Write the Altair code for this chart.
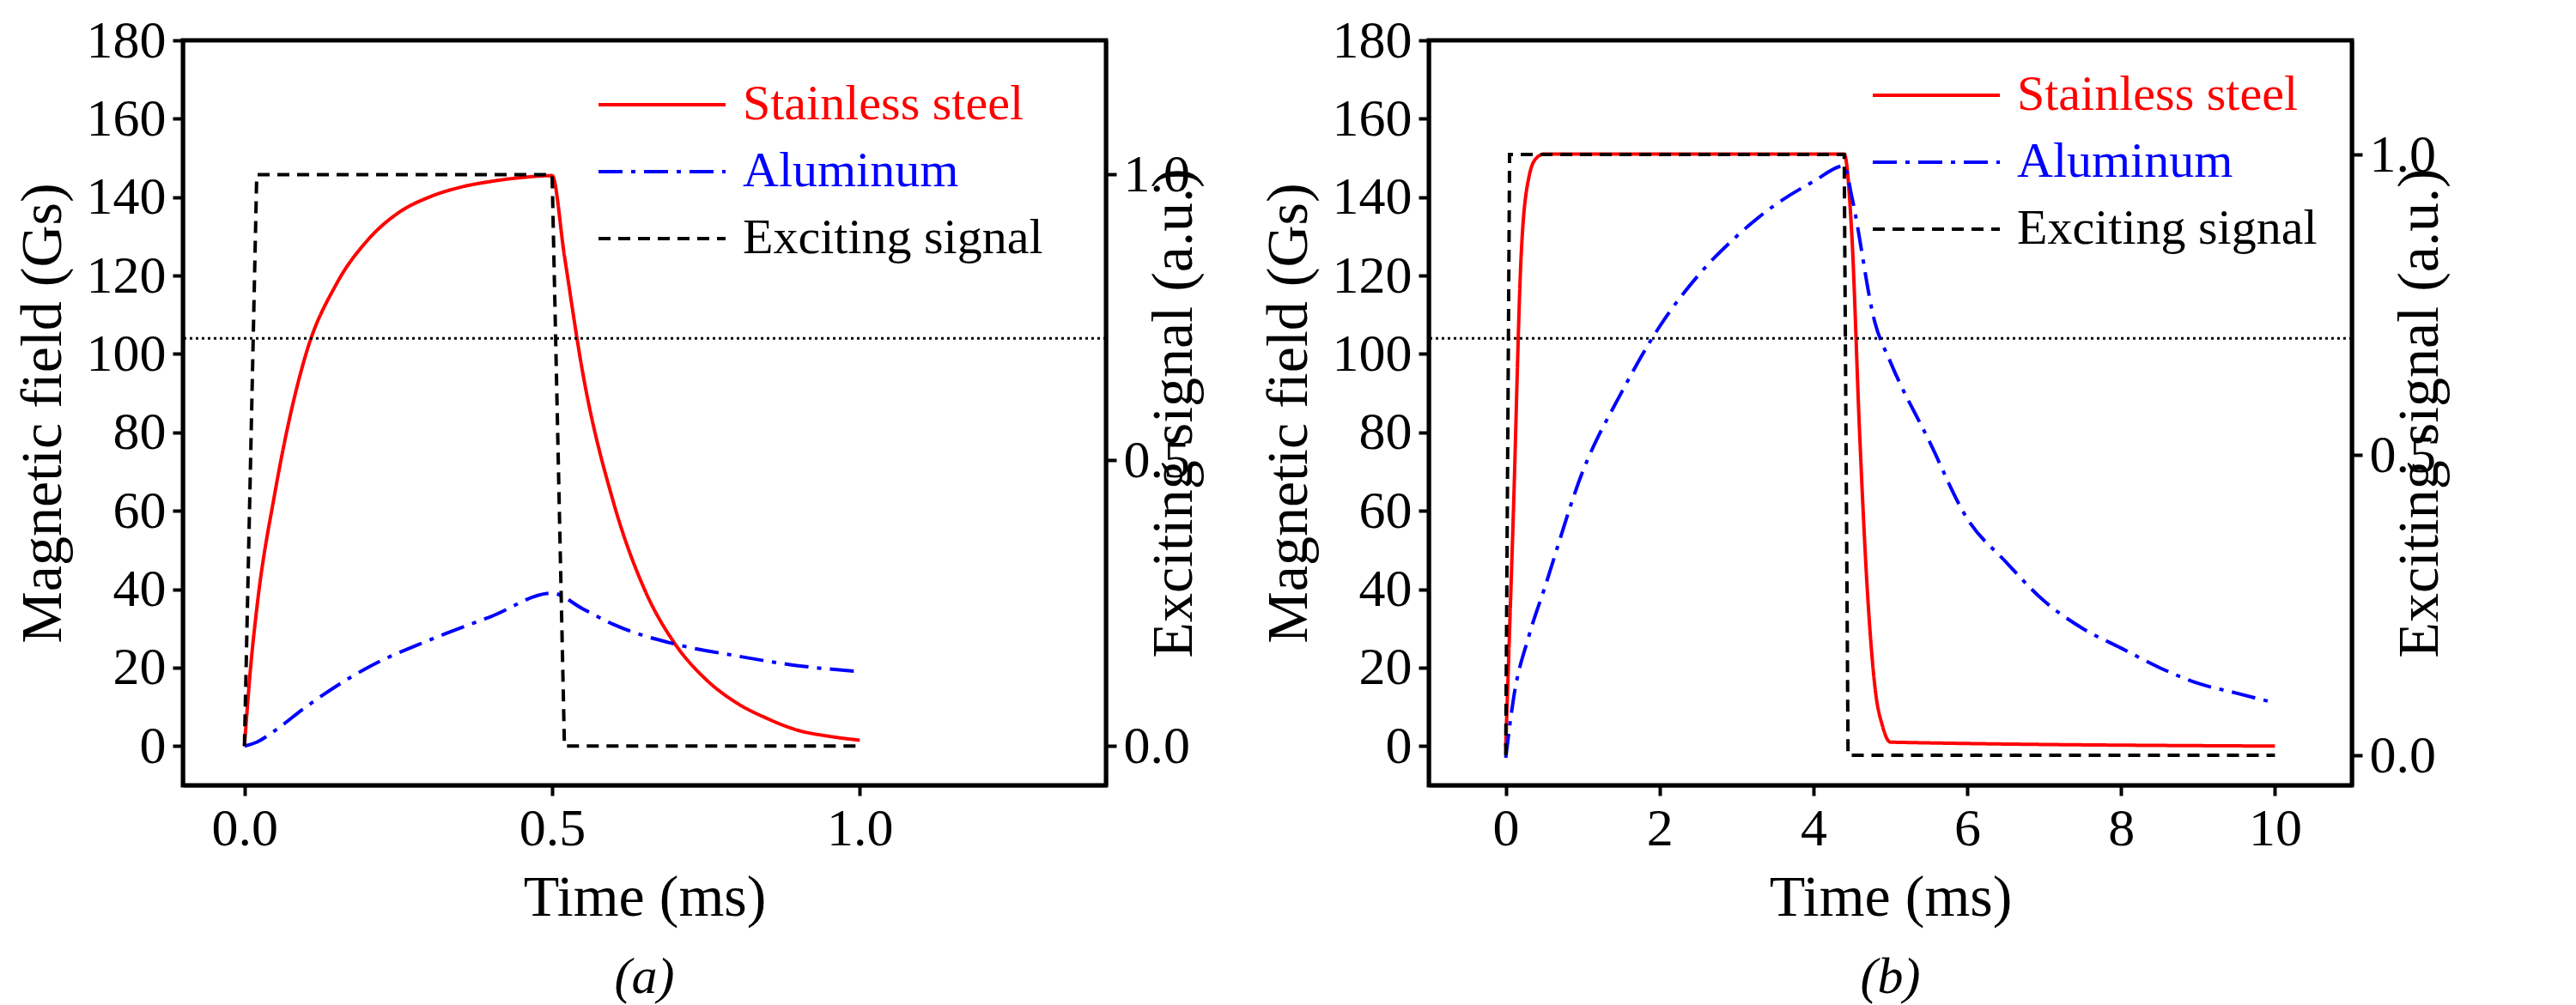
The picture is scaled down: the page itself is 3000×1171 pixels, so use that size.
import altair as alt
import pandas as pd

FONT = "Liberation Serif"

# panel (a)
a_ss_t = [0, 0.01, 0.02, 0.05, 0.1, 0.15, 0.2, 0.25, 0.3, 0.35, 0.4, 0.45, 0.5,
          0.52, 0.55, 0.6, 0.65, 0.7, 0.75, 0.8, 0.85, 0.9, 0.95, 1.0]
a_ss_v = [0, 20, 35, 65, 100, 118, 129, 136, 140, 142.5, 144, 145, 145.5,
          125, 95, 62, 40, 26, 17, 11, 7, 4, 2.5, 1.5]
a_al_t = [0, 0.02, 0.05, 0.1, 0.2, 0.3, 0.4, 0.5, 0.55, 0.6, 0.7, 0.8, 0.9, 1.0]
a_al_v = [0, 1, 4, 10, 20, 27, 33, 39, 35, 31, 26, 23, 20.5, 19]
a_ex_t = [0.0, 0.02, 0.5, 0.52, 1.0]
a_ex_v = [0, 1, 1, 0, 0]

# panel (b)
b_ss_t = [0, 0.1, 0.2, 0.3, 0.4, 0.5, 4.4, 4.5, 4.6, 4.7, 4.8, 4.9, 5.0, 10]
b_ss_v = [0, 60, 125, 145, 150, 151, 151, 130, 80, 40, 15, 5, 1, 0]
b_al_t = [0, 0.1, 0.3, 0.5, 1, 1.5, 2, 2.5, 3, 3.5, 4, 4.4, 4.5, 4.8, 5, 5.5, 6,
          6.5, 7, 7.5, 8, 8.5, 9, 9.5, 10]
b_al_v = [-3, 12, 28, 40, 70, 90, 107, 120, 130, 138, 144, 148, 140, 108, 98, 78,
          58, 47, 37, 30, 25, 20, 16, 13.5, 11]
b_ex_t = [0, 0.05, 4.4, 4.45, 10]
b_ex_v = [0, 1, 1, 0, 0]

series_names = ["Stainless steel", "Aluminum", "Exciting signal"]
threshold = 104


def panel(ss_t, ss_v, al_t, al_v, ex_t, ex_v, xdom, xticks, xfmt, ydom2,
          label, leg_x, leg_y):
    df = pd.DataFrame({
        "t": ss_t + al_t,
        "v": ss_v + al_v,
        "s": [series_names[0]] * len(ss_t) + [series_names[1]] * len(al_t),
    })
    ex = pd.DataFrame({"t": ex_t, "v": ex_v})
    x = alt.X("t:Q", title="Time (ms)", scale=alt.Scale(domain=xdom, nice=False),
              axis=alt.Axis(values=xticks, format=xfmt, grid=False))
    y = alt.Y("v:Q", title="Magnetic field (Gs)",
              scale=alt.Scale(domain=[-10, 180], nice=False),
              axis=alt.Axis(values=list(range(0, 181, 20)), grid=False, orient="left"))
    lines = alt.Chart(df).mark_line(strokeWidth=4, clip=True, interpolate="monotone").encode(
        x=x, y=y,
        color=alt.Color("s:N", scale=alt.Scale(domain=series_names[:2], range=["#ff0000", "#0000ff"]), legend=None),
        strokeDash=alt.StrokeDash("s:N", scale=alt.Scale(domain=series_names[:2], range=[[1, 0], [28, 10, 5, 10]]), legend=None),
    )
    hline = alt.Chart(pd.DataFrame({"v": [threshold]})).mark_rule(
        color="black", strokeDash=[3, 4], strokeWidth=3).encode(y="v:Q")
    left = alt.layer(lines, hline)
    excite = alt.Chart(ex).mark_line(color="black", strokeWidth=4, strokeDash=[14, 9]).encode(
        x=x,
        y=alt.Y("v:Q", title="Exciting signal (a.u.)",
                scale=alt.Scale(domain=ydom2, nice=False),
                axis=alt.Axis(values=[0, 0.5, 1.0], format=".1f", grid=False,
                              orient="right", titleAngle=270, titleBaseline="bottom")),
    )
    one = alt.Chart(pd.DataFrame({"a": [0]}))
    colors = ["#ff0000", "#0000ff", "black"]
    dashes = [[1, 0], [28, 10, 5, 10], [14, 9]]
    leg = []
    for i, name in enumerate(series_names):
        yy = leg_y + i * 78
        leg.append(one.mark_rule(color=colors[i], strokeWidth=4, strokeDash=dashes[i]).encode(
            x=alt.value(leg_x), x2=alt.value(leg_x + 148), y=alt.value(yy)))
        leg.append(one.mark_text(align="left", baseline="middle", font=FONT, fontSize=58,
                                 color=colors[i]).encode(
            x=alt.value(leg_x + 168), y=alt.value(yy), text=alt.value(name)))
    return alt.layer(left, excite, *leg).resolve_scale(y="independent").properties(
        width=1075, height=868,
        title=alt.TitleParams(label, orient="bottom", font=FONT, fontSize=60,
                              fontStyle="italic", fontWeight="normal", offset=30),
    )


pa = panel(a_ss_t, a_ss_v, a_al_t, a_al_v, a_ex_t, a_ex_v, [-0.1, 1.4],
           [0, 0.5, 1.0], ".1f", [-0.0686, 1.235], "(a)", 484, 75)
pb = panel(b_ss_t, b_ss_v, b_al_t, b_al_v, b_ex_t, b_ex_v, [-1, 11],
           [0, 2, 4, 6, 8, 10], "d", [-0.05, 1.19], "(b)", 517, 64)

chart = alt.hconcat(pa, pb, spacing=60).configure_view(
    stroke="black", strokeWidth=5
).configure_axis(
    labelFont=FONT, titleFont=FONT, labelFontSize=62, titleFontSize=68,
    titleFontWeight="normal", labelColor="black", titleColor="black",
    domainColor="black", tickColor="black", domainWidth=4, tickWidth=4, tickSize=12,
    labelPadding=8, titlePadding=16,
)

chart.save("out.html", embed_options={"renderer": "svg", "actions": False})
